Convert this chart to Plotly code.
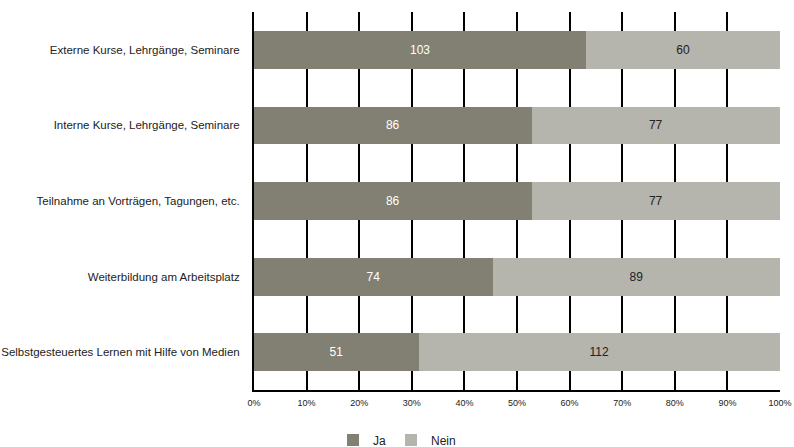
import plotly.graph_objects as go

categories = [
    "Externe Kurse, Lehrgänge, Seminare",
    "Interne Kurse, Lehrgänge, Seminare",
    "Teilnahme an Vorträgen, Tagungen, etc.",
    "Weiterbildung am Arbeitsplatz",
    "Selbstgesteuertes Lernen mit Hilfe von Medien",
]
ja = [103, 86, 86, 74, 51]
nein = [60, 77, 77, 89, 112]
tick_vals = [0, 10, 20, 30, 40, 50, 60, 70, 80, 90, 100]
tick_text = [f"{v}%" for v in tick_vals]

font_main = "Liberation Sans Narrow, Arial Narrow, Liberation Sans, Arial, sans-serif"

fig = go.Figure()
fig.add_trace(go.Bar(
    y=categories, x=ja, name="Ja", orientation="h",
    marker=dict(color="#827F73", line=dict(width=0)),
    text=ja, textposition="inside", insidetextanchor="middle",
    textfont=dict(color="white", size=12, family=font_main),
))
fig.add_trace(go.Bar(
    y=categories, x=nein, name="Nein", orientation="h",
    marker=dict(color="#B5B4AD", line=dict(width=0)),
    text=nein, textposition="inside", insidetextanchor="middle",
    textfont=dict(color="#222222", size=12, family=font_main),
))

fig.update_layout(
    barmode="stack", barnorm="percent", bargap=0.5,
    width=794, height=447,
    margin=dict(l=254, r=14, t=12, b=57, autoexpand=False),
    plot_bgcolor="white", paper_bgcolor="white",
    font=dict(family=font_main, size=12, color="#222222"),
    showlegend=True,
    legend=dict(orientation="h", xref="container", yref="paper",
                x=333 / 794, xanchor="left", y=-0.132, yanchor="middle",
                font=dict(size=12, family=font_main), itemwidth=30,
                traceorder="normal", bgcolor="rgba(0,0,0,0)"),
    xaxis=dict(range=[0, 100], tickvals=tick_vals, ticktext=tick_text,
               showgrid=True, gridcolor="black", gridwidth=2,
               showline=True, linecolor="black", linewidth=2,
               ticks="", tickfont=dict(size=9, family="Liberation Sans, Arial, sans-serif"),
               ticklabelstandoff=3, zeroline=False, fixedrange=True, automargin=False),
    yaxis=dict(autorange="reversed", showline=True, linecolor="black", linewidth=2,
               ticks="", ticklabelstandoff=10,
               tickfont=dict(size=11.5, family=font_main),
               fixedrange=True, automargin=False),
)
# remove the default page margin so the figure fills the window exactly
fig.write_html("out.html",
               config={"displayModeBar": False},
               post_script="document.body.style.margin='0';document.body.style.overflow='hidden';")
